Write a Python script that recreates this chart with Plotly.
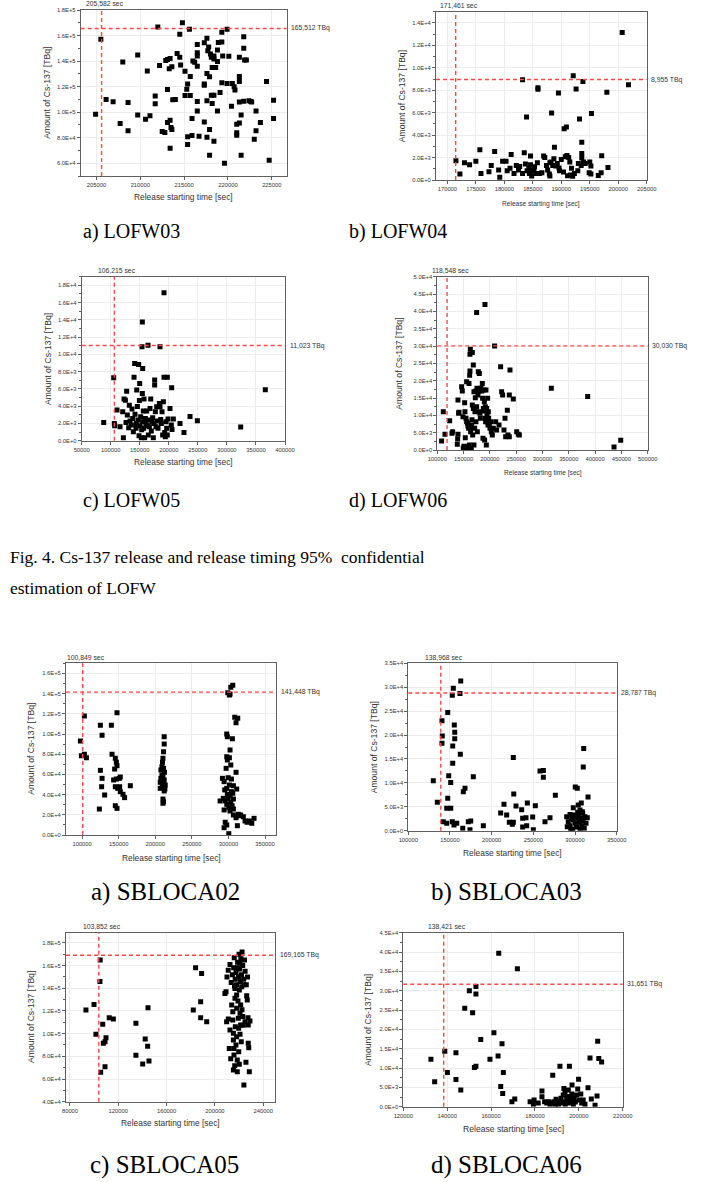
import math
import plotly.graph_objects as go

W, H = 702, 1182

# ---------------- data ----------------
lofw03_t = [204900,205500,206100,206900,207700,208000,208600,208600,209700,209700,210600,210800,211100,211700,211700,212000,212200,212500,212800,212900,213100,213100,213100,213400,213300,213400,213400,213500,213600,213600,213700,214000,214200,214500,214600,214500,214800,215100,215100,215300,215400,215400,215400,215600,215700,215700,215900,215900,216000,216200,216500,216500,216500,216500,216500,216500,216700,217300,217300,217300,217300,217600,217600,217600,217600,217700,217800,217900,217900,217900,218000,218100,218200,218200,218100,218400,218400,218600,218400,218400,218900,218800,218800,218800,219100,219300,219300,219300,219400,219600,219900,219900,220100,220400,220500,220700,220800,221000,221000,221000,221300,221300,221300,221300,221300,221500,221500,221800,221800,221800,221900,222100,222400,222600,222700,223000,223200,223200,223700,224400,224700,225200,225200]
lofw03_q = [98400,157000,110000,108100,91100,139200,107600,85400,144700,97700,94500,132200,97100,112600,106500,166700,136600,84800,84100,140500,141300,117800,91900,142000,134000,93700,71800,88000,135600,86400,109700,110000,146000,143000,137000,161000,170000,132000,113000,118000,122000,80700,74700,165000,128000,113000,95000,81700,140000,139000,153000,146500,144000,136000,108400,101000,81200,122000,121000,92200,154400,157800,130300,109000,80400,148000,151000,127700,86400,66300,145500,143000,106800,135000,113300,141600,113300,135000,144000,77300,154600,148600,139700,101000,115400,123000,162500,155000,144000,60000,165000,122500,143700,104700,122500,119900,117300,90600,83800,82000,91600,128000,124000,143000,108000,97700,66300,108600,159000,150000,140800,140800,108900,108400,108000,78800,101000,85400,91900,124000,62400,109400,95000]

lofw04_t = [171500,172200,173000,173900,175000,175700,175900,177700,178300,177300,179000,179200,179700,180300,180500,181000,181200,181700,182100,182500,182700,183200,183200,183500,183700,183900,184000,184300,184400,184600,184600,184800,184900,185200,185300,185600,185800,185900,185900,186200,186600,186900,187100,187400,187600,187900,188000,188000,188200,188300,188500,188700,188800,189000,189300,189500,189600,189700,190000,190400,190500,190700,190900,191000,191100,191300,191500,191600,191800,192100,192000,192300,192600,192900,193000,193200,193500,193600,193600,193600,193800,193900,194200,194900,195000,195200,195300,195200,196500,197000,197100,198000,198200,200700,201800]
lofw04_q = [1720,530,1540,1360,1660,2690,590,1300,2540,740,890,240,1660,1660,830,1040,2280,590,1300,890,1210,590,8930,2430,1420,5620,830,1040,590,1360,2130,360,890,770,1180,590,1540,8220,8080,590,650,2130,2010,1300,890,530,360,1540,1600,5980,1300,1890,2930,1240,1480,7750,1070,830,1830,710,4560,2070,4730,2190,380,2010,1600,440,1040,9290,330,590,8110,830,1480,5440,1300,2370,3370,1950,8790,1600,1480,650,1600,1240,5920,530,410,650,2160,7810,1120,13140,8490]

lofw05_t = [87900,105100,106200,106800,110800,116000,120600,121700,122900,125200,126300,127400,128600,130900,132000,133200,135500,136600,137800,138900,140100,141200,141800,143500,144100,144700,145800,147000,148100,148700,149300,149800,150400,151500,152700,153300,153800,154400,154400,155000,155000,156100,156700,157300,158400,159600,160700,161900,163000,164200,164700,165300,166500,167600,168800,169900,171100,172200,173300,174500,175600,175600,176800,177900,179100,180200,181400,183700,184800,184800,186000,187100,188300,189400,190600,191700,191700,192900,194000,195200,196300,197400,197400,198600,202000,204900,204300,205500,207800,219200,226100,236500,249100,323700,366100]
lofw05_q = [2120,7290,2000,1730,3550,1620,3350,350,4820,4700,2120,5740,2970,1500,4120,2270,1810,3660,2580,1040,7360,8940,3050,1430,2000,5860,3970,2390,8830,580,4660,6630,1730,2780,350,1270,10870,13760,5470,8370,2200,3430,1430,4820,350,2580,2000,3430,1730,11060,660,2390,1620,3740,4820,1120,2200,2660,350,2000,7020,6440,3350,1620,3930,2270,1430,4320,10870,3930,2470,2000,3350,660,4510,17150,7360,960,460,2200,1430,7360,660,2510,3740,6130,1810,1310,2510,2000,960,2810,2310,1580,5900]

lofw06_t = [108200,111400,114600,123500,127900,129200,138000,138700,139300,139300,140600,141200,146300,147500,148800,149400,150700,152000,152600,153200,154500,155800,155800,157100,157700,158300,159000,160200,159600,160900,161500,162100,162100,162800,163400,164000,164700,165300,165900,166600,166600,167200,168500,168500,169700,169700,174800,171000,171600,172300,173500,173500,174800,175400,176100,177300,178000,178600,179900,179900,181100,181800,183000,190600,184300,185600,186200,186800,187500,188100,188700,189400,190000,190600,191300,191900,192500,193200,193800,194500,195100,195700,196400,197000,197600,198900,200200,201400,202700,204600,206500,209000,211000,212800,217300,220400,222300,224200,226800,228700,230000,233100,234400,236900,238200,236900,244500,250900,254000,256000,316800,385900,436000,448700]
lofw06_q = [2600,11060,4520,8460,4810,5290,1630,3170,4520,14400,10580,10870,18270,17000,9600,580,1060,13650,11060,3560,9130,19700,8170,480,7690,6920,960,19200,6250,1440,21600,22800,27600,29100,5290,6250,290,7200,8750,28100,13000,4330,24500,12000,1440,16800,39700,6250,11060,15100,8170,17000,12500,17800,5290,15900,22600,11060,22100,17000,10580,9130,17800,42000,17000,19200,14900,3370,12000,11250,17300,13900,2880,9130,12500,8170,17300,1440,12000,10100,8170,14900,7200,11060,9130,7200,6250,8170,5290,4330,6250,30000,8170,5770,7200,24000,16800,15900,5770,9130,3850,11500,4330,3850,23100,15900,14700,5290,4520,4330,17800,15400,870,2790]

sbloca02_t = [97700,103100,125000,127300,140000,147700,212200,212200,299100,302200,303200,305900,301300,308600,312700,310400,297700,298500,305400,99000,103100,105900,125000,127300,126700,130800,123600,140900,145400,146800,147700,144500,143100,146800,150900,152200,145400,148600,151300,152200,155900,158100,145400,147700,165900,211300,210500,209900,209100,211300,207700,212600,209100,210500,207700,212200,209100,206800,211300,213600,209500,206800,213100,212200,210500,211300,210500,302200,297700,301300,298500,303200,296800,310400,291800,299600,304100,294100,301300,306800,297700,311300,294900,304100,298500,302200,305900,293000,299600,306800,295600,303200,288600,297700,305000,300500,294100,306800,302200,313500,306800,314900,310400,320400,322700,328600,335000,331900,312200,295600,297700,294100,300500,325600,316600]
sbloca02_q = [93000,117800,108600,98700,108600,121000,97300,90000,140900,139600,146200,148200,138600,116500,115500,111200,100000,97300,95300,78500,79900,76500,64000,56100,47800,39600,25700,79900,75900,72000,68600,65300,54500,55400,56100,57400,47800,46200,47800,42900,40300,37000,29000,26400,48800,82500,75900,72000,67600,66000,64400,62100,59400,57700,56100,54500,52800,52200,51200,49500,47800,46200,45500,43600,35600,33000,31400,84200,77500,76500,74300,69300,66000,62100,56100,56700,55400,52800,49500,48800,46200,45500,44600,42900,40300,38900,41300,36300,36300,35600,33700,32400,33700,30400,29000,27000,24800,25700,23800,20500,19800,19100,17100,18100,13900,13900,16500,11600,9200,12600,9900,7200,1300,12600,19800]

sbloca03_t = [162900,154000,152800,162000,147300,140400,155200,155700,155700,140800,140400,153300,162400,153300,130000,148500,150900,178000,168000,166000,147300,134800,146100,150900,142000,146100,152800,154800,158100,165300,172000,174900,174000,190000,210800,214800,218000,221200,224800,226000,226000,226500,229200,236000,237200,237200,241200,242800,242000,249200,250000,252400,258000,262000,262000,264000,270000,276400,300300,302700,309900,310400,315600,307500,303900,297900,306000,290000,291900,294000,294000,296000,297200,298800,300000,301200,302000,303900,305100,306800,308000,309200,309900,311100,312000,313200,314700,294800,306000,290700,303200,297900,308700]
sbloca03_q = [31300,29800,28300,28700,24700,23000,22100,20600,19200,19800,18300,17700,16000,14100,10450,11500,10100,11300,8860,8150,6770,5930,4680,4680,1880,1550,1880,1190,1550,500,1880,2030,210,1050,3700,5520,3280,1760,1340,1760,15300,7670,5160,4390,2590,770,2720,5790,1050,2860,210,5230,12500,12600,11200,1880,2720,7400,9140,8860,13300,17200,7050,5790,5370,4810,4330,2930,1880,3400,1050,2590,360,3280,1550,2590,770,3140,1760,2590,1050,3640,2030,500,2930,1550,2720,210,210,840,3850,2240,3970]

sbloca05_t = [93200,99900,101500,105400,107100,107600,109000,109800,109000,112500,115900,134600,134600,140200,142300,144300,144600,145400,182100,188200,188200,193200,105000,104800,184000,189000,208300,209200,209700,211100,212500,211900,213100,213900,214800,214800,215300,215300,215800,215800,216400,216600,216600,216900,217400,218000,218000,218000,218500,219100,219400,219700,219700,220200,220200,220800,220800,221300,221300,221800,222200,222400,223000,223500,224000,224900,225700,226300,226800,227400,227600,228000,228500,229000,227600,218500,215300,210000,211000,212500,213500,214500,215500,216000,216800,217500,218000,218800,219500,220000,220500,221000,221500,222000,222500,223000,223800,224500,225000,226000,227000,218500,220700,216200,224000]
sbloca05_q = [120800,125800,99400,65900,108200,91500,92900,96400,70800,114000,112900,109100,80900,73200,95200,88800,122800,75900,120800,128100,114000,110500,165000,146000,158000,153000,135500,136900,110500,112900,103200,87000,77900,125200,119300,112000,100300,94400,87000,81100,71700,139900,131100,106100,90000,134000,122300,97300,76700,128700,113500,104700,84100,138400,73000,117900,99400,125200,107600,92900,141300,121100,115200,107300,54700,110500,74700,133400,129600,114000,91500,87600,66400,111100,107600,66400,67900,150000,156000,161000,145000,152000,158000,167000,148000,154000,143000,163000,150000,170000,157000,146000,166000,152000,172000,160000,148000,165000,155000,143000,150000,158000,162000,142000,143000]

sbloca06_t = [132600,134300,138900,140100,144000,144000,146200,148000,150100,151600,152400,153100,153100,153100,155300,159500,161300,163200,164400,165000,165300,165600,169500,170800,177800,179600,179300,181500,183200,183200,184400,185400,186300,186900,188100,187600,188700,189200,189600,190200,190700,191400,191100,191900,192300,192900,193200,193200,193700,193800,194500,194800,195200,195400,195700,196000,196300,196800,196900,197200,197500,197900,198400,199000,199500,199900,200200,200900,201300,202000,202800,204200,205100,205700,207400,208300,208600,209100,210400,163500,172000]
sbloca06_q = [12260,6430,14320,8840,7040,13980,4290,25450,30000,24270,10130,10460,29150,31100,17400,12260,19130,13100,5240,16300,3440,8840,1290,1980,1290,1720,620,950,4040,2570,1290,950,1290,620,8150,950,1290,620,1900,1200,620,10460,1400,2160,950,3000,4730,1290,3700,620,2570,1720,4290,950,10460,2570,1290,3270,5580,1720,620,2160,1200,3000,4550,7120,1720,3270,950,1720,620,4880,12600,1980,400,2740,16900,12440,11570,39700,35700]

# release-time / release-amount 95% estimates (dashed lines)
start_95 = [205582, 171461, 106215, 118548, 100849, 138968, 103852, 138421]
amount_95 = [165512, 8955, 11023, 30030, 141448, 28787, 169165, 31651]

captions = ["a) LOFW03", "b) LOFW04", "c) LOFW05", "d) LOFW06",
            "a) SBLOCA02", "b) SBLOCA03", "c) SBLOCA05", "d) SBLOCA06"]
fig_caption = ["Fig. 4. Cs-137 release and release timing 95%  confidential",
               "estimation of LOFW"]

# tick values
x_ticks = [
    [205000, 210000, 215000, 220000, 225000],
    [170000, 175000, 180000, 185000, 190000, 195000, 200000, 205000],
    [50000, 100000, 150000, 200000, 250000, 300000, 350000, 400000],
    [100000, 150000, 200000, 250000, 300000, 350000, 400000, 450000, 500000],
    [100000, 150000, 200000, 250000, 300000, 350000],
    [100000, 150000, 200000, 250000, 300000, 350000],
    [80000, 120000, 160000, 200000, 240000],
    [120000, 140000, 160000, 180000, 200000, 220000],
]
y_ticks = [
    [60000, 80000, 100000, 120000, 140000, 160000, 180000],
    [0, 2000, 4000, 6000, 8000, 10000, 12000, 14000],
    [0, 2000, 4000, 6000, 8000, 10000, 12000, 14000, 16000, 18000],
    [0, 5000, 10000, 15000, 20000, 25000, 30000, 35000, 40000, 45000, 50000],
    [0, 20000, 40000, 60000, 80000, 100000, 120000, 140000, 160000],
    [0, 5000, 10000, 15000, 20000, 25000, 30000, 35000],
    [40000, 60000, 80000, 100000, 120000, 140000, 160000, 180000],
    [0, 5000, 10000, 15000, 20000, 25000, 30000, 35000, 40000, 45000],
]

series = [(lofw03_t, lofw03_q), (lofw04_t, lofw04_q), (lofw05_t, lofw05_q), (lofw06_t, lofw06_q),
          (sbloca02_t, sbloca02_q), (sbloca03_t, sbloca03_q), (sbloca05_t, sbloca05_q), (sbloca06_t, sbloca06_q)]

# ---------------- layout (pixel boxes of each plot area) ----------------
boxes = [  # x0, x1, y0(top), y1(bottom) in px
    (80.7, 286.7, 10, 176),
    (436, 646.7, 11.7, 180),
    (81.7, 285, 276.7, 440.7),
    (437.3, 647.7, 276.7, 450),
    (66, 276, 663.3, 835),
    (408.3, 616.7, 663.3, 830.7),
    (66, 275.3, 932.7, 1101.7),
    (403.3, 622.7, 932.7, 1106.7),
]
xranges = [(203200, 226700), (168000, 205000), (50000, 400000), (100000, 500000),
           (78000, 365000), (100000, 350000), (76700, 250000), (120000, 220000)]
yranges = [(50000, 180000), (0, 15000), (0, 19000), (0, 50000),
           (0, 170000), (0, 35000), (40000, 189000), (0, 45000)]
ytitle_x = [46.7, 402.3, 47.3, 399.3, 30.7, 374.3, 31.7, 367.3]
xtitle_y = [197, 204, 461.7, 473, 857.7, 852.7, 1123.3, 1129]
xtitle_size = [8.4, 6.6, 8.4, 6.6, 8.4, 8.4, 8.4, 8.6]
cap_pos = [(131, 232, 20), (398, 232, 20), (131, 500, 20), (398, 500, 20),
           (165, 892, 25), (506.5, 892, 25), (164.5, 1165, 25), (506.5, 1165, 25)]

SANS = "Liberation Sans, Arial, sans-serif"
SERIF = "Liberation Serif, Times New Roman, serif"
RED = "#ff4848"


def sci(v):
    if v == 0:
        return "0.0E+0"
    e = int(math.floor(math.log10(abs(v)) + 1e-9))
    m = v / 10 ** e
    return f"{m:.1f}E+{e}"


def px(x):
    return x / W


def py(y):
    return 1 - y / H


fig = go.Figure()
layout = dict(width=W, height=H, autosize=False,
              margin=dict(l=0, r=0, t=0, b=0, pad=0, autoexpand=False),
              paper_bgcolor="white", plot_bgcolor="white", showlegend=False)
shapes, annotations = [], []

for i in range(8):
    n = i + 1
    xs = "" if n == 1 else str(n)
    t, q = series[i]
    fig.add_trace(go.Scatter(x=t, y=q, mode="markers", xaxis="x" + xs, yaxis="y" + xs,
                             marker=dict(symbol="square", size=5, color="black",
                                         line=dict(width=0)),
                             hoverinfo="x+y"))
    x0, x1, y0, y1 = boxes[i]
    yt = y_ticks[i]
    ydt = yt[1] - yt[0]
    axcommon = dict(showline=True, mirror=True, linecolor="#606060", linewidth=1,
                    showgrid=True, gridcolor="#ececec", gridwidth=1, zeroline=False,
                    ticks="outside", ticklen=3, tickwidth=1, tickcolor="#606060",
                    tickfont=dict(family=SANS, size=5.8, color="#333333"))
    layout["xaxis" + xs] = dict(axcommon, domain=[px(x0), px(x1)], anchor="y" + xs,
                                range=list(xranges[i]), tickmode="array",
                                tickvals=x_ticks[i], ticktext=[str(v) for v in x_ticks[i]])
    layout["yaxis" + xs] = dict(axcommon, domain=[py(y1), py(y0)], anchor="x" + xs,
                                range=list(yranges[i]), tickmode="array",
                                tickvals=yt, ticktext=[sci(v) for v in yt],
                                minor=dict(ticks="outside", ticklen=2, tickcolor="#606060",
                                           showgrid=False, tick0=yt[0], dtick=ydt / 2))
    # dashed estimate lines
    shapes.append(dict(type="line", xref="x" + xs, yref="y" + xs + " domain",
                       x0=start_95[i], x1=start_95[i], y0=0, y1=1,
                       line=dict(color=RED, width=1.4, dash="4px,3px")))
    shapes.append(dict(type="line", xref="x" + xs + " domain", yref="y" + xs,
                       x0=0, x1=1, y0=amount_95[i], y1=amount_95[i],
                       line=dict(color=RED, width=1.4, dash="4px,3px")))
    annotations.append(dict(xref="x" + xs, yref="y" + xs + " domain", x=start_95[i], y=1,
                            xanchor="center", yanchor="bottom", xshift=3, yshift=0.5,
                            text=f"{start_95[i]:,} sec", showarrow=False,
                            font=dict(family=SANS, size=6.8, color="#333333")))
    annotations.append(dict(xref="x" + xs + " domain", yref="y" + xs, x=1, y=amount_95[i],
                            xanchor="left", yanchor="middle", xshift=2.5,
                            text=f"{amount_95[i]:,} TBq", showarrow=False,
                            font=dict(family=SANS, size=6.8, color="#333333")))
    # axis titles
    annotations.append(dict(xref="paper", yref="paper", x=px(ytitle_x[i]), y=py((y0 + y1) / 2),
                            xanchor="center", yanchor="middle", textangle=-90,
                            text="Amount of Cs-137 [TBq]", showarrow=False,
                            font=dict(family=SANS, size=8.6, color="#333333")))
    annotations.append(dict(xref="paper", yref="paper", x=px((x0 + x1) / 2), y=py(xtitle_y[i]),
                            xanchor="center", yanchor="middle",
                            text="Release starting time [sec]", showarrow=False,
                            font=dict(family=SANS, size=xtitle_size[i], color="#333333")))
    cx, cy, cs = cap_pos[i]
    annotations.append(dict(xref="paper", yref="paper", x=px(cx), y=py(cy),
                            xanchor="center", yanchor="middle", text=captions[i],
                            showarrow=False, font=dict(family=SERIF, size=cs, color="black")))

annotations.append(dict(xref="paper", yref="paper", x=px(8), y=py(557), xanchor="left",
                        yanchor="middle", text=fig_caption[0], showarrow=False,
                        font=dict(family=SERIF, size=17.5, color="black")))
annotations.append(dict(xref="paper", yref="paper", x=px(8), y=py(588), xanchor="left",
                        yanchor="middle", text=fig_caption[1], showarrow=False,
                        font=dict(family=SERIF, size=17.5, color="black")))

layout["shapes"] = shapes
layout["annotations"] = annotations
fig.update_layout(**layout)
fig.write_html("out.html", config={"displayModeBar": False},
               post_script="document.body.style.margin='0px';document.body.style.padding='0px';")
